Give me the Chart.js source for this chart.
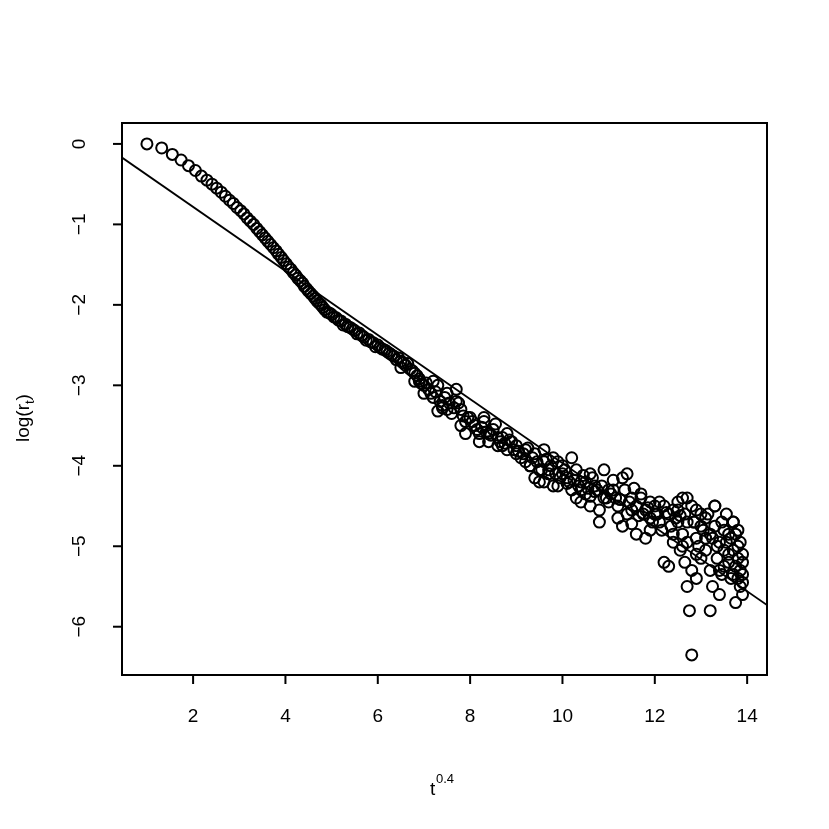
<!DOCTYPE html>
<html><head><meta charset="utf-8">
<script src="https://cdn.jsdelivr.net/npm/chart.js@4"></script>
<style>html,body{margin:0;padding:0;background:#fff}#c{display:block}</style>
</head><body>
<canvas id="c" width="829" height="829"></canvas>
<script>
const ptX = [1,1.32,1.55,1.74,1.9,2.05,2.18,2.3,2.41,2.51,2.61,2.7,2.79,2.87,2.95,3.03,3.1,3.17,3.24,3.31,3.38,3.44,3.5,3.56,3.62,3.68,3.74,3.8,3.85,3.91,3.96,4.02,4.07,4.12,4.17,4.22,4.27,4.32,4.37,4.41,4.46,4.5,4.55,4.6,4.64,4.68,4.73,4.77,4.81,4.85,4.9,
5.0,5.1,5.2,5.3,5.4,5.5,5.6,5.7,5.8,5.9,6.0,5.05,5.25,5.45,5.65,5.85,
6.1,6.2,6.3,6.4,6.5,6.6,6.7,6.8,6.9,7.0,6.5,6.8,7.0,6.15,6.35,6.55,6.75,6.95,
7.1,7.2,7.3,7.4,7.5,7.6,7.7,7.8,7.9,8.0,7.2,7.5,7.7,7.9,7.15,7.35,7.55,7.85,
8.1,8.2,8.3,8.4,8.5,8.6,8.7,8.8,8.9,9.0,8.3,8.6,8.8,9.0,8.15,8.45,8.65,8.95,
9.1,9.2,9.3,9.4,9.5,9.6,9.7,9.8,9.9,10.0,9.3,9.6,9.7,9.9,10.0,9.15,9.45,9.55,9.85,
10.1,10.2,10.3,10.4,10.5,10.6,10.7,10.8,10.9,11.0,10.2,10.5,10.8,10.9,11.0,10.15,10.35,10.65,10.75,
11.1,11.2,11.3,11.4,11.5,11.6,11.7,11.8,11.9,12.0,11.3,11.4,11.6,11.8,11.9,12.0,11.15,11.45,11.75,
12.1,12.2,12.3,12.4,12.5,12.6,12.7,12.8,12.9,13.0,12.2,12.3,12.5,12.6,12.7,12.75,12.8,12.8,12.9,13.0,12.15,12.45,12.65,12.85,12.95,
13.1,13.2,13.3,13.4,13.5,13.6,13.7,13.8,13.9,13.2,13.25,13.3,13.35,13.4,13.55,13.7,13.75,13.8,13.85,13.9,13.8,13.9,13.6,13.65,13.15,13.45,13.5,13.75,13.85];
const ptY = [0,-0.05,-0.13,-0.2,-0.27,-0.33,-0.4,-0.45,-0.5,-0.55,-0.6,-0.65,-0.7,-0.74,-0.79,-0.83,-0.87,-0.92,-0.96,-1.0,-1.05,-1.09,-1.13,-1.17,-1.21,-1.25,-1.29,-1.33,-1.37,-1.41,-1.45,-1.49,-1.53,-1.56,-1.6,-1.63,-1.67,-1.7,-1.73,-1.77,-1.8,-1.83,-1.86,-1.89,-1.92,-1.95,-1.98,-2.0,-2.03,-2.06,-2.09,
-2.12,-2.16,-2.2,-2.24,-2.28,-2.32,-2.35,-2.4,-2.43,-2.47,-2.5,-2.15,-2.25,-2.3,-2.38,-2.46,
-2.55,-2.58,-2.62,-2.68,-2.7,-2.75,-2.8,-2.85,-2.92,-3.0,-2.78,-2.95,-3.1,-2.56,-2.64,-2.72,-2.82,-2.98,
-3.05,-3.15,-3.0,-3.25,-3.1,-3.35,-3.2,-3.3,-3.45,-3.4,-2.95,-3.3,-3.05,-3.6,-3.1,-3.2,-3.22,-3.38,
-3.5,-3.7,-3.45,-3.6,-3.55,-3.75,-3.65,-3.8,-3.7,-3.85,-3.4,-3.65,-3.6,-3.75,-3.55,-3.62,-3.7,-3.8,
-3.9,-3.8,-4.0,-3.85,-4.2,-3.95,-4.05,-3.9,-4.25,-4.1,-4.0,-3.8,-4.1,-3.95,-4.0,-3.85,-3.95,-4.05,-4.1,
-4.15,-4.3,-4.05,-4.2,-4.35,-4.1,-4.25,-4.7,-4.4,-4.3,-3.9,-4.2,-4.55,-4.05,-4.45,-4.2,-4.25,-4.15,-4.3,
-4.3,-4.5,-4.15,-4.6,-4.4,-4.85,-4.35,-4.55,-4.45,-4.6,-4.75,-4.1,-4.5,-4.9,-4.65,-4.5,-4.4,-4.45,-4.6,
-4.7,-5.2,-4.6,-4.85,-4.55,-5.0,-4.4,-5.3,-4.9,-4.75,-4.5,-5.25,-4.7,-4.4,-5.5,-5.8,-6.35,-4.5,-5.1,-4.6,-4.8,-4.65,-5.2,-4.7,-5.0,
-4.9,-5.3,-4.5,-5.6,-4.8,-5.1,-4.7,-5.4,-5.2,-5.8,-5.5,-4.5,-5.0,-4.95,-4.6,-4.7,-5.7,-5.0,-5.3,-5.6,-4.8,-5.1,-5.2,-4.9,-4.6,-5.35,-5.05,-5.25,-5.5];
const extraX = [4.95,5.15,5.35,5.55,5.75,5.95,6.05,6.25,6.45,6.65,6.85,7.05,7.25,7.45,7.65,7.75,7.95,8.05,8.25,8.35,8.55,8.75,8.85,9.05,9.25,9.35,9.5,9.65,9.75,9.95,
10.05,10.1,10.25,10.4,10.45,10.55,10.6,10.7,10.85,10.95,11.05,11.1,11.25,11.35,11.5,11.55,11.65,11.7,11.85,11.95,
12.05,12.1,12.25,12.35,12.4,12.55,12.6,12.65,12.7,12.85,12.9,13.05,13.1,13.2,13.3,13.35,13.45,13.5,13.6,13.65,13.7,13.8,13.85,13.9,
12.4,12.5,12.55,12.7,12.9,13.0,13.1,13.25,13.4,13.55,13.7,13.75,13.9,11.2,11.5,11.9,10.3,10.6,9.4,9.8,
8.4,8.7,9.2,7.4,7.8,6.9,7.3,8.2,9.6,10.4];
const extraY = [-2.1,-2.19,-2.27,-2.36,-2.44,-2.52,-2.53,-2.6,-2.66,-2.73,-2.88,-2.97,-3.08,-3.15,-3.28,-3.22,-3.4,-3.45,-3.52,-3.58,-3.48,-3.72,-3.68,-3.82,-3.78,-3.9,-4.05,-3.92,-4.0,-4.15,
-4.05,-4.22,-4.18,-4.3,-4.12,-4.28,-4.38,-4.32,-4.25,-4.4,-4.35,-4.18,-4.42,-4.3,-4.55,-4.28,-4.62,-4.4,-4.52,-4.7,
-4.6,-4.45,-4.58,-4.75,-4.55,-4.62,-4.85,-4.6,-4.95,-4.7,-5.4,-4.8,-5.05,-4.85,-4.75,-5.15,-4.7,-5.25,-4.85,-5.4,-5.05,-5.15,-4.95,-5.35,
-4.95,-4.45,-5.05,-4.7,-4.55,-5.15,-4.65,-4.9,-5.3,-4.95,-5.35,-4.85,-5.45,-4.65,-4.72,-4.8,-4.4,-4.5,-4.15,-4.25,
-3.7,-3.75,-3.95,-3.28,-3.5,-2.95,-3.32,-3.6,-4.2,-4.45];
const fitX = [0.46, 14.43];
const fitY = [-0.17, -5.73];
const xTicks = [2,4,6,8,10,12,14];
const yTicks = [0,-1,-2,-3,-4,-5,-6];

const FONT = '"Liberation Sans", Helvetica, Arial, sans-serif';
const decor = {
  id:'decor',
  afterDraw(chart){
    const {ctx, chartArea:a, scales:{x,y}} = chart;
    ctx.save();
    ctx.strokeStyle='#000'; ctx.lineWidth=2;
    ctx.strokeRect(a.left,a.top,a.right-a.left,a.bottom-a.top);
    ctx.fillStyle='#000';
    ctx.font='19px '+FONT;
    ctx.textAlign='center'; ctx.textBaseline='middle';
    for(const v of yTicks){
      const py=y.getPixelForValue(v);
      ctx.beginPath(); ctx.moveTo(a.left,py); ctx.lineTo(a.left-9,py); ctx.stroke();
      ctx.save(); ctx.translate(80,py); ctx.rotate(-Math.PI/2);
      ctx.fillText(v<0?'\u2212'+(-v):String(v),0,0); ctx.restore();
    }
    for(const v of xTicks){
      const px=x.getPixelForValue(v);
      ctx.beginPath(); ctx.moveTo(px,a.bottom); ctx.lineTo(px,a.bottom+9); ctx.stroke();
      ctx.fillText(String(v),px,717);
    }
    ctx.textAlign='left';
    ctx.fillText('t',430,790);
    ctx.font='13px '+FONT; ctx.fillText('0.4',436,779);
    ctx.save(); ctx.translate(24,400); ctx.rotate(-Math.PI/2);
    ctx.font='19px '+FONT; ctx.textAlign='left';
    const w1=ctx.measureText('log(r').width;
    ctx.fillText('log(r',-42,0);
    ctx.font='13px '+FONT; ctx.fillText('t',-42+w1,6);
    const w2=ctx.measureText('t').width;
    ctx.font='19px '+FONT; ctx.fillText(')',-42+w1+w2,0);
    ctx.restore();
    ctx.restore();
  }
};
const ptStyle = {pointRadius:5.5,pointBorderWidth:2,pointBorderColor:'#000',pointBackgroundColor:'rgba(0,0,0,0)',showLine:false};
new Chart(document.getElementById('c'),{
  type:'scatter',
  data:{datasets:[
    Object.assign({data:ptX.map((v,i)=>({x:v,y:ptY[i]}))},ptStyle),
    Object.assign({data:extraX.map((v,i)=>({x:v,y:extraY[i]}))},ptStyle),
    {data:fitX.map((v,i)=>({x:v,y:fitY[i]})),showLine:true,pointRadius:0,borderColor:'#000',borderWidth:1.8}
  ]},
  options:{
    responsive:false,animation:false,
    layout:{padding:{left:0,right:62,top:123,bottom:0}},
    plugins:{legend:{display:false},tooltip:{enabled:false}},
    scales:{
      x:{type:'linear',min:0.46,max:14.43,grid:{display:false},border:{display:false},ticks:{display:false},
         afterFit(s){s.height=154;}},
      y:{type:'linear',min:-6.6,max:0.26,grid:{display:false},border:{display:false},ticks:{display:false},
         afterFit(s){s.width=122;}}
    }
  },
  plugins:[decor]
});
</script>
</body></html>
